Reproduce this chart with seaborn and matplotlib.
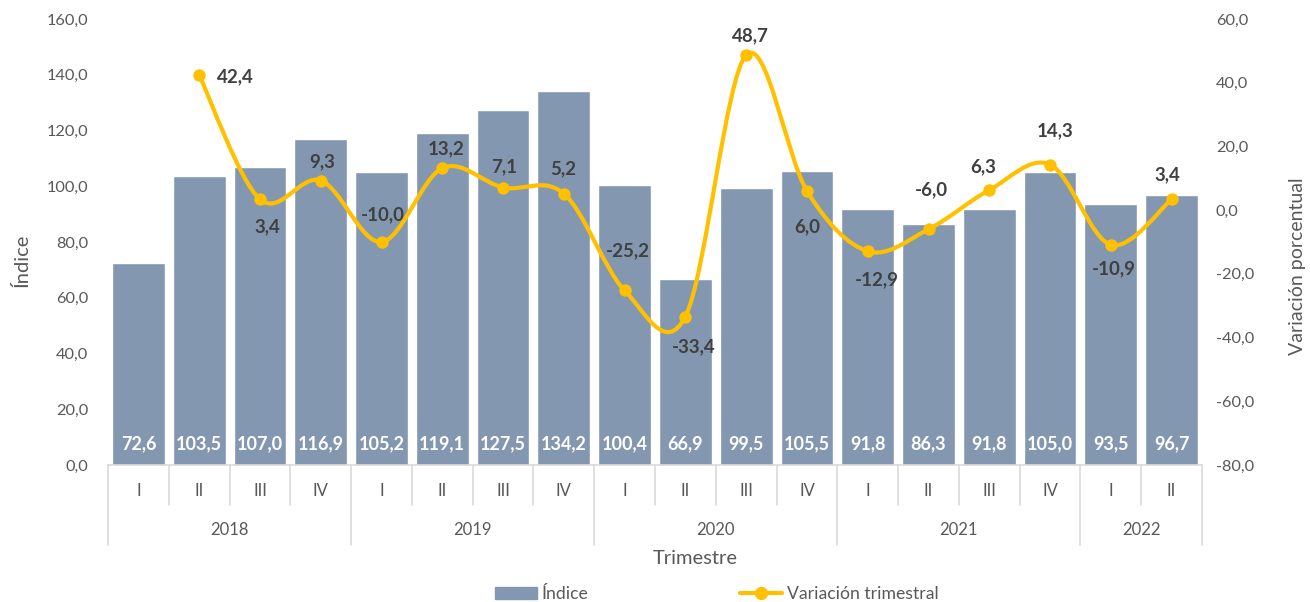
import numpy as np
import pandas as pd
import matplotlib
matplotlib.use("Agg")
import matplotlib.pyplot as plt
import seaborn as sns
from matplotlib.path import Path
from matplotlib.patches import PathPatch, Patch
from matplotlib.lines import Line2D
import matplotlib.transforms as mtransforms

# ---- data ----
years = ["2018", "2019", "2020", "2021", "2022"]
year_counts = [4, 4, 4, 4, 2]
quarters = ["I", "II", "III", "IV", "I", "II", "III", "IV", "I", "II", "III", "IV",
            "I", "II", "III", "IV", "I", "II"]
indice = [72.6, 103.5, 107.0, 116.9, 105.2, 119.1, 127.5, 134.2, 100.4, 66.9,
          99.5, 105.5, 91.8, 86.3, 91.8, 105.0, 93.5, 96.7]
variacion = [None, 42.4, 3.4, 9.3, -10.0, 13.2, 7.1, 5.2, -25.2, -33.4, 48.7, 6.0,
             -12.9, -6.0, 6.3, 14.3, -10.9, 3.4]

# ---- label placement (style, pixel offsets of label centre from point) ----
label_dx = [0, 18, 7, 1, 1, 4, 1, -1, 3, 8, 4, 0, 9, 3, -6, 5, 3, -4]
label_dy = [0, -2, -27, 19, 27, 19, 21, 25, 40, -30, 19, -36, -29, 40, 23, 34, -24, 25]
label_ha = ["center", "left"] + ["center"] * 16

BAR = "#8497B0"
LINE = "#FFC000"
TXT = "#595959"
LBL = "#404040"
GRID = "#D9D9D9"

sns.set_theme(style="white")
plt.rcParams["font.family"] = ["Lato", "DejaVu Sans"]

W, H = 1310, 602
PX2PT = 72 / 100
fig = plt.figure(figsize=(W / 100, H / 100), dpi=100)
ax = fig.add_axes([108 / W, 1 - 465 / H, (1202 - 108) / W, (465 - 19) / H])

df = pd.DataFrame({"pos": [str(i) for i in range(len(indice))], "indice": indice})
sns.barplot(data=df, x="pos", y="indice", color=BAR, saturation=1, width=0.87, ax=ax)
ax.set_ylim(0, 160)
ax.set_xlim(-0.5, len(indice) - 0.5)
ax.set_yticks(np.arange(0, 161, 20))
ax.set_yticklabels([f"{v:.1f}".replace(".", ",") for v in np.arange(0, 161, 20)],
                   fontsize=11.8, color=TXT)
ax.set_xticks(range(len(quarters)))
ax.set_xticklabels([])
ax.tick_params(axis="both", length=0)
ax.tick_params(axis="y", pad=14)
ax.set_xlabel("")
ax.set_ylabel("")
for s in ["top", "right", "left"]:
    ax.spines[s].set_visible(False)
ax.spines["bottom"].set_color(GRID)
ax.spines["bottom"].set_linewidth(1.2)

# bar value labels
for i, v in enumerate(indice):
    ax.text(i, 7.8, f"{v:.1f}".replace(".", ","), ha="center", va="center",
            color="white", fontsize=13, fontweight="bold")

# category axis (quarters + years)
trans = mtransforms.blended_transform_factory(ax.transData, ax.transAxes)
ah = 465 - 19
q_bottom = -40 / ah
y_bottom = -80 / ah
for i, q in enumerate(quarters):
    ax.text(i, -26 / ah, q, transform=trans, ha="center", va="center",
            fontsize=12, color=TXT)
bounds = np.cumsum([0] + year_counts)
year_edges = set(bounds.tolist())
for b in range(len(quarters) + 1):
    bottom = y_bottom if b in year_edges else q_bottom
    ax.plot([b - 0.5, b - 0.5], [0, bottom], transform=trans, color=GRID,
            lw=1.2, clip_on=False)
for k, yr in enumerate(years):
    mid = (bounds[k] + bounds[k + 1] - 1) / 2
    ax.text(mid, -65 / ah, yr, transform=trans, ha="center", va="center",
            fontsize=12, color=TXT)

# axis titles
fig.text(695 / W, 1 - 558 / H, "Trimestre", ha="center", va="center",
         fontsize=14.5, color=TXT)
fig.text(22 / W, 1 - 260 / H, "Índice", ha="center", va="center", rotation=90,
         fontsize=14.5, color=TXT)
fig.text(1297 / W, 1 - 266 / H, "Variación porcentual", ha="center", va="center",
         rotation=90, fontsize=14, color=TXT)

# secondary axis
ax2 = ax.twinx()
ax2.set_ylim(-80, 60)
ax2.set_yticks(np.arange(-80, 61, 20))
ax2.set_yticklabels([f"{v:.1f}".replace(".", ",") for v in np.arange(-80, 61, 20)],
                    fontsize=11.8, color=TXT)
ax2.tick_params(axis="y", length=0, pad=10)
for s in ax2.spines.values():
    s.set_visible(False)
ax2.set_ylabel("")
ax2.grid(False)

lx = [i for i, v in enumerate(variacion) if v is not None]
ly = [v for v in variacion if v is not None]

# smoothed line (Bezier through data points, Excel-style)
pts = np.column_stack([lx, ly]).astype(float)
verts = [tuple(pts[0])]
codes = [Path.MOVETO]
n = len(pts)
for i in range(n - 1):
    p0 = pts[i - 1] if i > 0 else pts[i]
    p1 = pts[i]
    p2 = pts[i + 1]
    p3 = pts[i + 2] if i + 2 < n else pts[i + 1]
    c1 = p1 + (p2 - p0) / 6
    c2 = p2 - (p3 - p1) / 6
    verts += [tuple(c1), tuple(c2), tuple(p2)]
    codes += [Path.CURVE4] * 3
ax2.add_patch(PathPatch(Path(verts, codes), facecolor="none", edgecolor=LINE,
                        lw=3.0, capstyle="round", joinstyle="round", zorder=3))
sns.scatterplot(x=lx, y=ly, color=LINE, s=80, edgecolor=LINE, linewidth=0,
                ax=ax2, zorder=4, legend=False)

for x, v in enumerate(variacion):
    if v is None:
        continue
    s = f"{v:.1f}".replace(".", ",")
    ax2.annotate(s, (x, v), xytext=(label_dx[x] * PX2PT, label_dy[x] * PX2PT),
                 textcoords="offset points", ha=label_ha[x], va="center",
                 fontsize=13.5, fontweight="bold", color=LBL)

handles = [Patch(facecolor=BAR, edgecolor=BAR),
           Line2D([0], [0], color=LINE, lw=3.0, marker="o", markersize=8.5)]
fig.legend(handles, ["Índice", "Variación trimestral"], loc="center",
           bbox_to_anchor=(717 / W, 1 - 594 / H), ncol=2, frameon=False,
           fontsize=12.7, labelcolor=TXT, handlelength=2.35, columnspacing=8.6,
           handletextpad=0.3, handleheight=0.7, borderpad=0.2)

fig.savefig("out.png", dpi=100)
